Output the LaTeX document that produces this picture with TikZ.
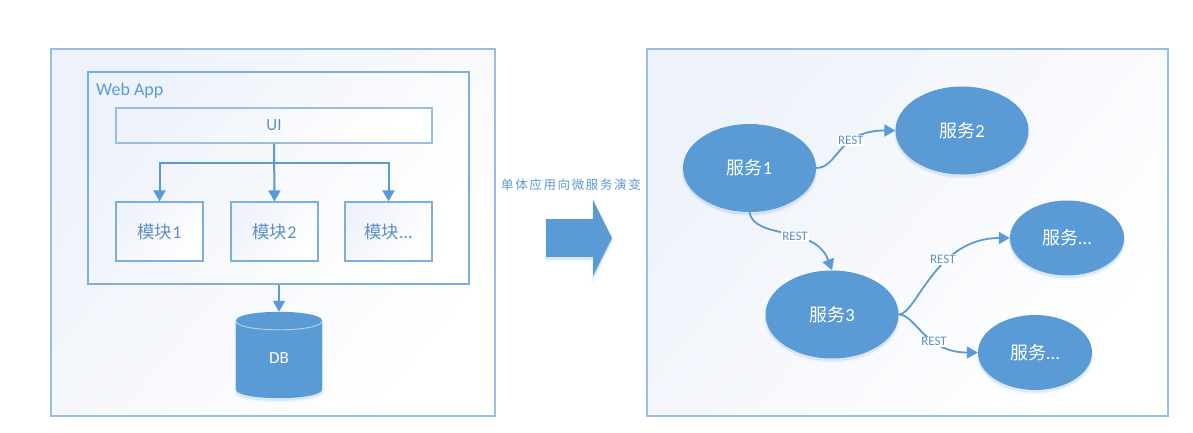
\documentclass[tikz,border=0pt]{standalone}
\usepackage{fontspec}
\setmainfont{Carlito}
\newfontfamily\cjk{Noto Sans CJK SC}[Scale=0.97]
\newfontfamily\cjkspaced{Noto Sans CJK SC}[LetterSpace=13]
\usetikzlibrary{arrows.meta,shapes.geometric}
\definecolor{blu}{HTML}{5B9BD5}
\definecolor{edgeblu}{HTML}{9ABDE2}
\definecolor{txtblu}{HTML}{5F8FC4}
\definecolor{tint}{HTML}{EEF2FA}
\tikzset{
  softshadow/.style={
    preaction={draw=blu,draw opacity=.05,line width=3pt,fill=blu,fill opacity=.06,transform canvas={yshift=-3pt}},
    preaction={draw=blu,draw opacity=.07,line width=1.5pt,fill=blu,fill opacity=.10,transform canvas={yshift=-2pt}}},
  panel/.style={rectangle,draw=edgeblu,line width=1.1pt,inner sep=0pt,shade,shading=axis,
    top color=tint,middle color=white,bottom color=white,shading angle=50},
  modbox/.style={panel,minimum width=87,minimum height=59,text=txtblu,font=\fontsize{18}{21}\selectfont,draw=blu!80},
  svc/.style={ellipse,fill=blu,inner sep=0pt,text=white,softshadow,font=\fontsize{18.5}{22}\selectfont},
  svcbig/.style={svc,minimum width=133,minimum height=88},
  svcsmall/.style={svc,minimum width=114,minimum height=75},
  link/.style={draw=blu,line width=1.8pt,-{Triangle[length=11pt,width=12pt]}},
  flow/.style={draw=blu,line width=2pt,-{Triangle[length=11pt,width=12pt]}},
  rest/.style={fill=white,inner sep=1pt,text=txtblu,font=\fontsize{13}{15}\selectfont},
}
\begin{document}
\begin{tikzpicture}[x=1pt,y=-1pt]
\useasboundingbox (0,0) rectangle (1193,432);
\fill[white] (0,0) rectangle (1193,432);
% panels
\node[panel,minimum width=444,minimum height=367] (left) at (273,232.5) {};
\node[panel,minimum width=521,minimum height=367] (right) at (907.5,232.5) {};
\node[panel,minimum width=381,minimum height=212,draw=blu!80] (app) at (278.5,178) {};
\node[anchor=west,text=blu,font=\fontsize{18}{21}\selectfont,inner sep=0pt] (applabel) at (96,90.5) {Web App};
\node[panel,minimum width=316,minimum height=35,text=txtblu,font=\fontsize{17}{20}\selectfont] (ui) at (274,125.5) {UI};
\node[modbox] (m1) at (159.5,231.5) {{\cjk 模块}1};
\node[modbox] (m2) at (274.5,231.5) {{\cjk 模块}2};
\node[modbox] (m3) at (388.5,231.5) {{\cjk 模块}...};
% UI flows
\coordinate (bus) at (274,162.5);
\draw[flow] (ui.south) -- (m2.north);
\draw[flow] (bus) -| (m1.north);
\draw[flow] (bus) -| (m3.north);
% database
\node[rectangle,draw=none,inner sep=0pt,minimum width=86,minimum height=86] (db) at (279,355) {};
\path[fill=blu,softshadow] ([yshift=-9pt]db.north west)
  .. controls +(0,-12) and +(0,-12) .. ([yshift=-9pt]db.north east)
  -- ([yshift=9pt]db.south east)
  .. controls +(0,12) and +(0,12) .. ([yshift=9pt]db.south west) -- cycle;
\draw[white,opacity=.55,line width=.9pt] ([yshift=-9pt]db.north west) .. controls +(0,12) and +(0,12) .. ([yshift=-9pt]db.north east);
\node[text=white,font=\fontsize{17}{20}\selectfont,inner sep=0pt] (dblabel) at (279,358.5) {DB};
\draw[flow] (app.south -| db.north) -- (db.north);
% middle
\node[text=blu,font=\fontsize{12.5}{15}\selectfont,inner sep=0pt] (title) at (571,184.5) {\cjkspaced 单体应用向微服务演变};
\path[fill=blu,softshadow] (546,219) -- (593,219) -- (593,200) -- (612,238) -- (593,276) -- (593,257) -- (546,257) -- cycle;
% services
\node[svcbig] (s1) at (749.5,168) {{\cjk 服务}1};
\node[svcbig] (s2) at (962,130.5) {{\cjk 服务}2};
\node[svcbig] (s3) at (832,314.5) {{\cjk 服务}3};
\node[svcsmall] (s4) at (1067,238) {{\cjk 服务}...};
\node[svcsmall] (s5) at (1035,352.5) {{\cjk 服务}...};
\draw[link] (s1.east) .. controls +(22,0) and +(-58,0) .. (s2.west) node[rest,pos=.6,xshift=2pt,yshift=3pt] {REST};
\draw[link] (s1.south) .. controls +(5,28) and +(-17,-46) .. (s3.north) node[rest,pos=.6,xshift=-2pt,yshift=2pt] {REST};
\draw[link] (s3.east) .. controls +(18,0) and +(-75,0) .. (s4.west) node[rest,pos=.62,xshift=-3pt,yshift=3pt] {REST};
\draw[link] (s3.east) .. controls +(17,0) and +(-53,0) .. (s5.west) node[rest,pos=.65,xshift=-2pt] {REST};
\end{tikzpicture}
\end{document}
